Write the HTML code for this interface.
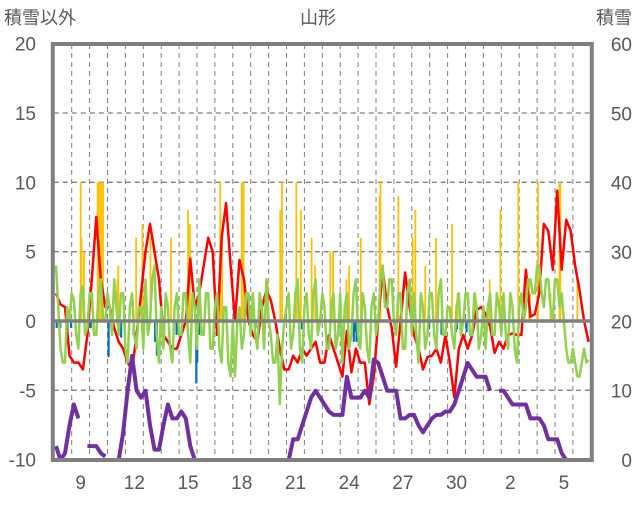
<!DOCTYPE html>
<html><head><meta charset="utf-8"><style>
body{margin:0;background:#fff;}
svg text{font-family:"Liberation Sans","Noto Sans CJK JP",sans-serif;fill:#595959;}
</style></head><body>
<svg id="chart" width="636" height="501" viewBox="0 0 636 501">
<text x="4" y="24" font-size="18">積雪以外</text>
<text x="318" y="24" font-size="18" text-anchor="middle">山形</text>
<text x="632" y="24" font-size="18" text-anchor="end">積雪</text>
<g id="grid"></g><g id="bars"></g><g id="lines"></g><g id="frame"></g><g id="ticks"></g>
</svg>
<script>
const days=['9','12','15','18','21','24','27','30','2','5'];
const dayIdx=[1,4,7,10,13,16,19,22,25,28];
const leftTicks=[-10,-5,0,5,10,15,20];
const rightTicks=[0,10,20,30,40,50,60];
const redVals=[2,1.2,1,-2.5, -3,-3,-3.5,-1, 3,7.5,3,1, 1,-0.5,-1.5,-2, -3,-3.5,-1,2, 5,7,5,3, -1,-1.5,-2,-2, -1,0,4.5,1, 2,4,6,5, -1,6,8.5,4, 0,4.4,3,0, -1,-1.5,1,2.2, 1.5,0,-2,-3.5, -3.5,-2.5,-3,-2, -2.5,-2,-1.5,-3, -3,-1,-2,-3, -4,-0.7,-3.7,-2, -3,-3,-6,-4, 0,3.7,1,-0.5, -3.3,0,3.5,1, -1,-2,-3.5,-2.6, -2.5,-2,-3,-1, -3,-5.5,-2,-1, -2,-1,0.8,1, 0.5,-0.4,-2.3,-1.5, -2,-1,-0.9,-1, -1,3.7,0.3,0.5, 2,7,6.5,3.7, 9.4,3.7,7.3,6.5, 4,2.2,0,-1.5];
const greenVals=[4,-2,-3,0, 1.5,-2,2.5,-0.5, 2,-1,3,0, 1,3,-1,2, -3,2,-2,1, 3,0,4,-3, -2,1,-3,2, -1,2,-3,1, 3,-1,2,-2, 2,-3,1,-4, -4,1,-1,2, 2,-2,1,3, -1,-3,-6,0, 2,-1,3,-3, 2,-2,3,0, 1,-2,2,-1, -3,2,-1,3, -2,1,-3,2, 0,4,1,3, -1,2,-2,3, 2,-3,1,-1, 2,-2,3,-1, 1,-2,2,0, 2,-1,1,-1, -2,2,-1,1, 2,-2,1,-3, 2,1,3,2, 4,1,3,0, 3,2,-2,-3, -3,-4,-2,-2.8];
const greenMid=[1,-3,1,2, -1,2,-1,2, -1,2,0,2, -1,1,2,-2, 1,-1,1,-2, -1,3,-1,1, 2,-2,1,-1, 2,-1,2,-2, -1,2,-2,1, -2,1,-3,0, 0,-2,2,-1, -1,2,-2,0, -3,-1,-2,1, -2,2,-2,1, -1,2,-1,2, -2,1,-2,2, 1,-2,2,-1, 2,-2,1,-1, 3,1,3,0, 2,-2,2,-1, -1,2,-2,2, -1,2,-1,1, -1,1,-1,2, -1,2,-2,1, 1,-1,2,-1, -1,2,-2,1, 0,3,2,4, 2,3,1,3, 1,0,-3,-2, -4,-3,-3,-2.5];
const snowVals=[2,0,1,5, 8,6,null,2, 2,2,1,0.5, null,null,0,4, 10,15,10,9, 10,5,1.5,1.5, 5,8,6,6, 7,6,2,0, 0,0,0,0, 0,0,0,0, 0,0,0,0, 0,0,0,0, 0,0,0,0, 0,3,3,5, 7,9,10,9, 8,7,6.5,6.5, 6.5,12,9,9, 9,10,9,14.5, 14,12,10,10, 10,6,6,6.5, 6.5,5,4,5, 6,6.5,6.5,7, 7,8,10,12, 14,13,12,12, 12,10,null,10, 10,9,8,8, 8,8,6,6, 6,5,3,3, 3,1,0,0, 0,0,0,0];
const precipT=[1.45,1.5,1.63,2.4,2.5,2.6,2.7,3.5,3.55,4.55,4.9,5.35,6.5,7.45,7.55,9.25,9.35,10.45,10.55,11.9,12.6,12.7,13.5,13.75,14.35,14.55,15.4,15.55,16.3,16.45,17.1,18.15,18.2,19.2,20.0,20.15,20.7,21.3,22.2,22.5,23.5,24.3,24.9,25.9,26.5,26.55,27.0,27.7,28.2,28.25,29.2];
const precipV=[10,6,5,10,10,10,10,3,4,6,7,6,6,8,7,10,6,10,10,3,8,10,10,8,6,4,5,5,3,4,6,9,10,9,6,8,4,6,7,2,2,3,8,10,3,2,10,2,10,10,3];
const negT=[0.1,0.3,0.7,0.9,2.0,3.0,3.7,4.4,5.6,5.7,6.8,7.9,7.95,8.05,11.2,11.7,13.8,13.9,15.85,16.7,16.75,16.85,16.95,20.9,21.6,22.4,22.45,23.0];
const negV=[-0.5,-0.5,-0.9,-0.5,-0.5,-2.6,-1.2,-1,-1.5,-2.5,-1,-4.5,-3,-1,-0.5,-0.5,-0.6,-0.6,-0.8,-1.5,-0.8,-1.5,-0.8,-0.6,-1,-0.8,-0.6,-0.8];

const X0=53.8,DW=17.9,NDAYS=30,YT=44,YB=460;
const xT=t=>X0+t*DW;
const yL=v=>321-v*(YB-YT)/30;
const yR=v=>YB-v*(YB-YT)/60;
const NS='http://www.w3.org/2000/svg';
function mk(tag,attrs,parent){const e=document.createElementNS(NS,tag);for(const k in attrs)e.setAttribute(k,attrs[k]);document.getElementById(parent).appendChild(e);return e;}

for(const v of leftTicks){ if(v===-10||v===20||v===0)continue;
  const g=mk('line',{x1:X0,x2:xT(NDAYS),y1:yL(v),y2:yL(v),stroke:'#7f7f7f','stroke-width':1.3,'stroke-dasharray':'5,4'},'grid');
  
  
}
for(let d=1;d<NDAYS;d++){
  const g=mk('line',{x1:xT(d),x2:xT(d),y1:YT,y2:YB,stroke:'#7f7f7f','stroke-width':1,'stroke-dasharray':'5,4'},'grid');
  
  
}
precipT.forEach((t,i)=>{
  const r=mk('rect',{x:xT(t),y:yL(precipV[i]),width:1.8,height:yL(0)-yL(precipV[i]),fill:'#ffc000'},'bars');
  
  
});
negT.forEach((t,i)=>{
  const r=mk('rect',{x:xT(t),y:yL(0),width:2.2,height:yL(negV[i])-yL(0),fill:'#0070c0'},'bars');
  
  
});
function pathFrom(vals,yf){let d='',pen=false;vals.forEach((v,i)=>{if(v===null){pen=false;return;}const x=xT((i+0.5)/4),y=yf(v);d+=(pen?'L':'M')+x.toFixed(1)+' '+y.toFixed(1)+' ';pen=true;});return d;}
function pathInter(a,b,yf){let d='';a.forEach((v,i)=>{d+=(i?'L':'M')+xT((i+0.5)/4).toFixed(1)+' '+yf(v).toFixed(1)+' ';if(i<b.length&&i<a.length-1)d+='L'+xT((i+1)/4).toFixed(1)+' '+yf(b[i]).toFixed(1)+' ';});return d;}
const rp=mk('path',{d:pathFrom(redVals,yL),fill:'none',stroke:'#ff0000','stroke-width':2.5,'stroke-linejoin':'round'},'lines');


const gp=mk('path',{d:pathInter(greenVals,greenMid,yL),fill:'none',stroke:'#92d050','stroke-width':2.5,'stroke-linejoin':'round'},'lines');


const sp=mk('path',{d:pathFrom(snowVals,yR),fill:'none',stroke:'#7030a0','stroke-width':4,'stroke-linejoin':'round'},'lines');



const z=mk('line',{x1:X0,x2:xT(NDAYS),y1:yL(0),y2:yL(0),stroke:'#7f7f7f','stroke-width':3.5},'frame');


const fr=mk('rect',{x:X0-1,y:YT,width:xT(NDAYS)-X0+2,height:YB-YT,fill:'none',stroke:'#7f7f7f','stroke-width':4},'frame');



leftTicks.forEach(v=>{
  const t=mk('text',{x:36,y:yL(v)+7,'font-size':19,'text-anchor':'end'},'ticks');t.textContent=v;
  
  
});
rightTicks.forEach(v=>{
  const t=mk('text',{x:632,y:yR(v)+7,'font-size':19,'text-anchor':'end'},'ticks');t.textContent=v;
  
  
});
days.forEach((s,i)=>{
  const t=mk('text',{x:xT(dayIdx[i]+0.5),y:489,'font-size':19,'text-anchor':'middle'},'ticks');t.textContent=s;
  
  
});
</script>
</body></html>
